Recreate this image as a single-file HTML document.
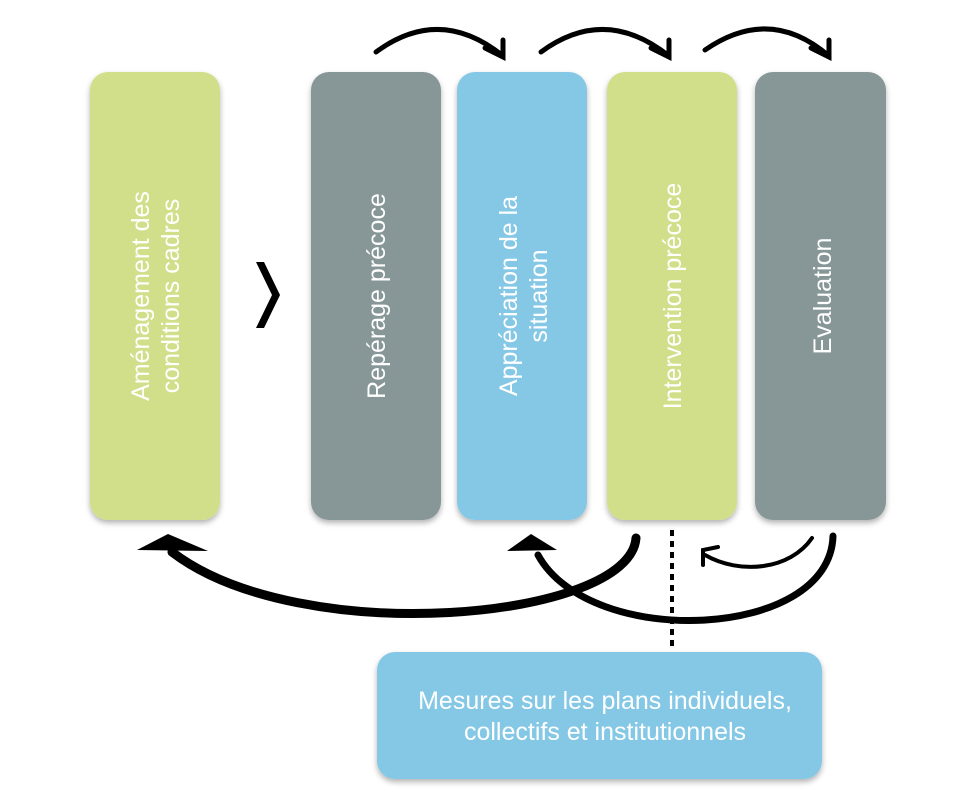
<!DOCTYPE html>
<html><head><meta charset="utf-8"><style>
body{margin:0;background:#fff;}
svg{display:block}
text{font-family:"Liberation Sans",sans-serif;fill:#fff;}
</style></head><body>
<svg width="979" height="809" viewBox="0 0 979 809" xmlns="http://www.w3.org/2000/svg">
<defs><filter id="sh" x="-10%" y="-10%" width="120%" height="120%"><feDropShadow dx="0" dy="3" stdDeviation="3" flood-color="#000" flood-opacity="0.3"/></filter></defs>
<g filter="url(#sh)">
<rect x="90" y="72" width="130" height="448" rx="18" fill="#d2df8a"/>
<rect x="311" y="72" width="130" height="448" rx="18" fill="#879696"/>
<rect x="457" y="72" width="130" height="448" rx="18" fill="#84c8e6"/>
<rect x="607" y="72" width="130" height="448" rx="18" fill="#d2df8a"/>
<rect x="755" y="72" width="131" height="448" rx="18" fill="#879696"/>
<rect x="377" y="652" width="445" height="127" rx="18" fill="#84c8e6"/>
</g>
<g font-size="25" text-anchor="middle">
<text transform="translate(155,296) rotate(-90)"><tspan x="0" y="-6">Aménagement des</tspan><tspan x="0" y="24">conditions cadres</tspan></text>
<text transform="translate(376,296) rotate(-90)" y="9">Repérage précoce</text>
<text transform="translate(523,296) rotate(-90)"><tspan x="0" y="-6">Appréciation de la</tspan><tspan x="0" y="24">situation</tspan></text>
<text transform="translate(672,296) rotate(-90)" y="9">Intervention précoce</text>
<text transform="translate(822,296) rotate(-90)" y="9">Evaluation</text>
</g>
<g font-size="25" text-anchor="middle">
<text x="605" y="709">Mesures sur les plans individuels,</text>
<text x="605" y="740">collectifs et institutionnels</text>
</g>
<path d="M256,262 L272,295 L256,328 L264,328 L280,295 L264,262 Z" fill="#000"/>
<g fill="none" stroke="#000" stroke-width="5" stroke-linecap="round">
<path d="M376,52 Q440,5 503,56"/><path d="M485,48 L503,57 L503,40"/>
<path d="M541,52 Q605,5 669,56"/><path d="M651,48 L669,57 L669,40"/>
<path d="M705,50 Q770,5 829,56"/><path d="M811,48 L829,57 L829,40"/>
<path d="M636,538 C630,620 300,650 172,552" stroke-width="9"/>
<path d="M833,536 C830,640 590,650 538,555" stroke-width="7"/>
<path d="M812,538 C790,570 740,575 705,555" stroke-width="4"/>
<path d="M703,565 L703,550 L718,547" stroke-width="4"/>
</g>
<polygon points="137,550 208,551 168,534" fill="#000"/>
<polygon points="507,551 557,550 531,534" fill="#000"/>
<line x1="672" y1="530" x2="672" y2="648" stroke="#000" stroke-width="4" stroke-dasharray="6,5"/>
</svg>
</body></html>
